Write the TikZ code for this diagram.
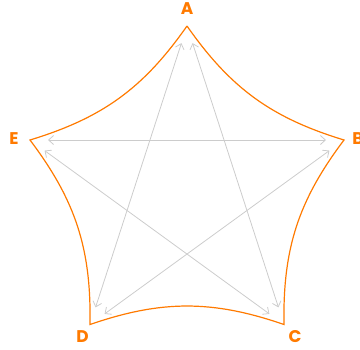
\documentclass[tikz,border=0pt]{standalone}
\usepackage{fontspec}
\newfontfamily\lblfont{Poppins}
\usepackage{xcolor}
\usepackage{tikz}
\usetikzlibrary{arrows.meta}
\definecolor{pentorange}{HTML}{FF7A00}
\definecolor{stargray}{HTML}{CCCCCC}
\tikzset{
  edge/.style={draw=pentorange, line width=1.2bp},
  star/.style={draw=stargray, line width=0.8bp, {Straight Barb[length=5bp, width=9bp]}-{Straight Barb[length=5bp, width=9bp]}, shorten <=18bp, shorten >=18bp},
  lbl/.style={text=pentorange, font=\lblfont\bfseries\fontsize{17}{20}\selectfont, inner sep=0pt}
}
\begin{document}
\begin{tikzpicture}[x=1bp, y=1bp]
    \useasboundingbox (0,0) rectangle (360,-350);
    \coordinate (A) at (187,-26);
    \coordinate (B) at (344,-140);
    \coordinate (C) at (284,-324.5);
    \coordinate (D) at (90,-324.5);
    \coordinate (E) at (30,-140);

    \node[lbl] (la) at (187,-9) {A};
    \node[lbl] (lb) at (358,-139) {B};
    \node[lbl] (lc) at (295,-337) {C};
    \node[lbl] (ld) at (82.5,-337) {D};
    \node[lbl] (le) at (14,-139) {E};

    % star inside
    \draw[star] (A) -- (C);
    \draw[star] (A) -- (D);
    \draw[star] (E) -- (B);
    \draw[star] (E) -- (C);
    \draw[star] (B) -- (D);

    % concave outline
    \draw[edge] (A) to[bend right=19] (B) to[bend right=19] (C)
      to[bend right=19] (D) to[bend right=19] (E) to[bend right=19] (A);
  \end{tikzpicture}
\end{document}
